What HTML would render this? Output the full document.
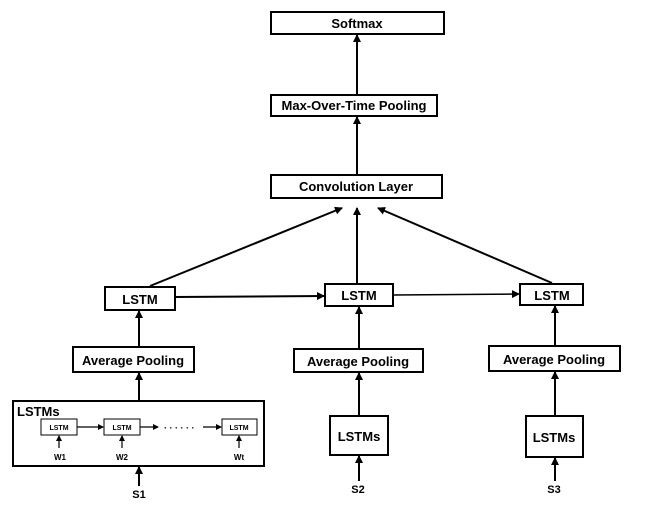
<!DOCTYPE html>
<html><head><style>
body{margin:0;background:#fff;}
svg text{font-family:"Liberation Sans",Arial,sans-serif;font-weight:bold;fill:#000;}
</style></head><body>
<svg width="650" height="511" viewBox="0 0 650 511" xmlns="http://www.w3.org/2000/svg">
<defs><marker id="a" markerWidth="8" markerHeight="8" refX="7" refY="4" orient="auto" markerUnits="userSpaceOnUse"><path d="M0,0 L8,4 L0,8 z" fill="#000"/></marker>
<marker id="s" markerWidth="6" markerHeight="6" refX="5" refY="3" orient="auto" markerUnits="userSpaceOnUse"><path d="M0,0 L6,3 L0,6 z" fill="#000"/></marker></defs>
<g fill="#fff" stroke="#000" stroke-width="2">
<rect x="271" y="12" width="173" height="22"/>
<rect x="271" y="95" width="166" height="21"/>
<rect x="271" y="175" width="171" height="23"/>
<rect x="105" y="287" width="70" height="23"/>
<rect x="73" y="347" width="121" height="25"/>
<rect x="13" y="401" width="251" height="65"/>
<rect x="325" y="284" width="68" height="22"/>
<rect x="294" y="349" width="129" height="23"/>
<rect x="330" y="416" width="58" height="39"/>
<rect x="520" y="284" width="63" height="21"/>
<rect x="489" y="346" width="131" height="25"/>
<rect x="526" y="416" width="57" height="41"/>
</g>
<g fill="#fff" stroke="#000" stroke-width="1">
<rect x="41" y="419" width="36" height="16"/>
<rect x="104" y="419" width="36" height="16"/>
<rect x="222" y="419" width="35" height="16"/>
</g>
<g stroke="#000" stroke-width="2" fill="none">
<line x1="357" y1="95" x2="357" y2="35" marker-end="url(#a)"/>
<line x1="357" y1="175" x2="357" y2="117" marker-end="url(#a)"/>
<line x1="150" y1="286" x2="342" y2="208" marker-end="url(#a)"/>
<line x1="357" y1="283" x2="357" y2="208" marker-end="url(#a)"/>
<line x1="552" y1="283" x2="378" y2="208" marker-end="url(#a)"/>
<line x1="175" y1="297" x2="324" y2="296" marker-end="url(#a)"/>
<line x1="393" y1="295" x2="519" y2="294" stroke-width="1.5" marker-end="url(#a)"/>
<line x1="139" y1="346" x2="139" y2="311" marker-end="url(#a)"/>
<line x1="139" y1="400" x2="139" y2="373" marker-end="url(#a)"/>
<line x1="139" y1="486" x2="139" y2="467" marker-end="url(#a)"/>
<line x1="359" y1="348" x2="359" y2="307" marker-end="url(#a)"/>
<line x1="359" y1="415" x2="359" y2="373" marker-end="url(#a)"/>
<line x1="359" y1="481" x2="359" y2="456" marker-end="url(#a)"/>
<line x1="555" y1="345" x2="555" y2="306" marker-end="url(#a)"/>
<line x1="555" y1="415" x2="555" y2="372" marker-end="url(#a)"/>
<line x1="555" y1="481" x2="555" y2="458" marker-end="url(#a)"/>
</g>
<g stroke="#000" stroke-width="1.2" fill="none">
<line x1="77" y1="427" x2="103" y2="427" marker-end="url(#s)"/>
<line x1="140" y1="427" x2="158" y2="427" marker-end="url(#s)"/>
<line x1="203" y1="427" x2="221" y2="427" marker-end="url(#s)"/>
<line x1="59" y1="448" x2="59" y2="436" marker-end="url(#s)"/>
<line x1="122" y1="448" x2="122" y2="436" marker-end="url(#s)"/>
<line x1="239" y1="448" x2="239" y2="436" marker-end="url(#s)"/>
</g>
<text x="164" y="431" font-size="9">· · ·  · · ·</text>
<g text-anchor="middle">
<text x="357" y="28" font-size="13">Softmax</text>
<text x="354" y="110" font-size="13">Max-Over-Time Pooling</text>
<text x="356" y="191" font-size="13">Convolution Layer</text>
<text x="140" y="304" font-size="13">LSTM</text>
<text x="133" y="365" font-size="13">Average Pooling</text>
<text x="359" y="300" font-size="13">LSTM</text>
<text x="358" y="366" font-size="13">Average Pooling</text>
<text x="359" y="441" font-size="13">LSTMs</text>
<text x="552" y="300" font-size="13">LSTM</text>
<text x="554" y="364" font-size="13">Average Pooling</text>
<text x="554" y="442" font-size="13">LSTMs</text>
<text x="59" y="430" font-size="7" font-weight="normal">LSTM</text>
<text x="122" y="430" font-size="7" font-weight="normal">LSTM</text>
<text x="239" y="430" font-size="7" font-weight="normal">LSTM</text>
<text x="60" y="460" font-size="8">W1</text>
<text x="122" y="460" font-size="8">W2</text>
<text x="239" y="460" font-size="8">Wt</text>
<text x="139" y="498" font-size="11">S1</text>
<text x="358" y="493" font-size="11">S2</text>
<text x="554" y="493" font-size="11">S3</text>
</g>
<text x="17" y="416" font-size="13">LSTMs</text>
</svg>
</body></html>
